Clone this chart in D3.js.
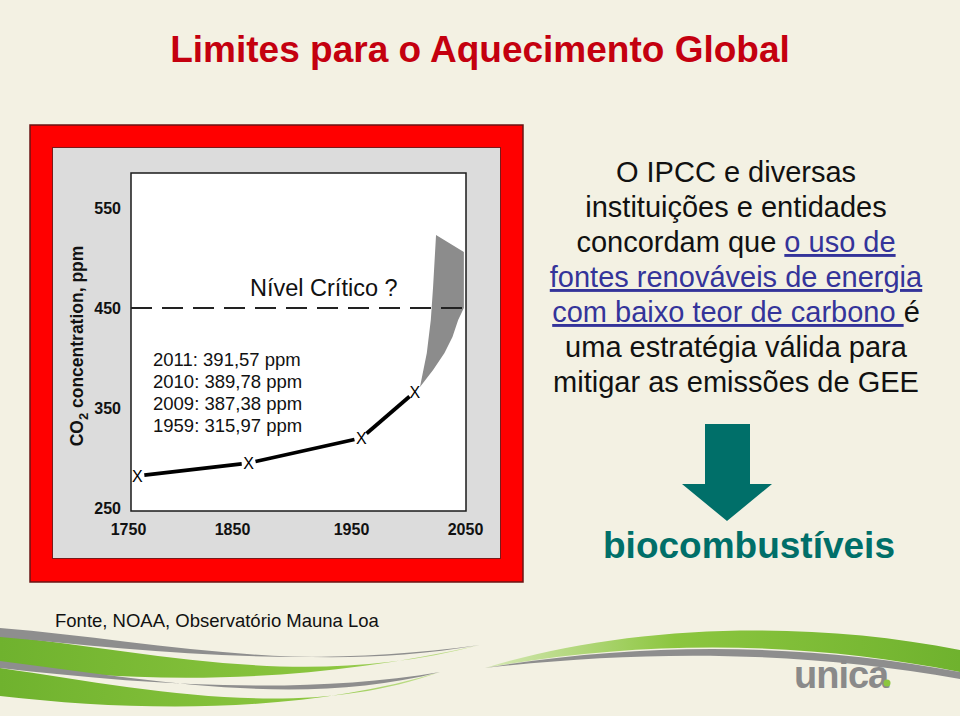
<!DOCTYPE html>
<html>
<head>
<meta charset="utf-8">
<script src="https://cdn.jsdelivr.net/npm/d3@7"></script>
<style>
  html, body { margin: 0; padding: 0; background: #f3f1e3; }
  svg { display: block; }
  text { font-family: "Liberation Sans", Arial, Helvetica, sans-serif; }
</style>
</head>
<body>
<svg id="chart" width="960" height="716"></svg>
<script>
// ---------- data ----------
const xTicks = [1750, 1850, 1950, 2050];
const yTicks = [250, 350, 450, 550];
const obsYears = [1759, 1864, 1959, 2006];
const obsPpm = [282, 295, 320, 366];
// projection band: upper/left edge then lower/right edge
const wedgeYears = [2010.5, 2016.5, 2020, 2022, 2023.7, 2024.6, 2049, 2049, 2044, 2039, 2032, 2022];
const wedgePpm   = [371,    405,    438,  471,  505,    523,    506,  450,  438,  421,  405,  388];
const criticalLevel = 450;
const criticalLabel = "Nível Crítico ?";
const readings = ["2011: 391,57 ppm", "2010: 389,78 ppm", "2009: 387,38 ppm", "1959: 315,97 ppm"];
const title = "Limites para o Aquecimento Global";
const source = "Fonte, NOAA, Observatório Mauna Loa";

// ---------- layout ----------
const svg = d3.select("#chart");
const W = 960, H = 716;
const box = { left: 131, right: 466, top: 173, bottom: 511 };

svg.append("rect").attr("width", W).attr("height", H).attr("fill", "#f3f1e3");

// footer decoration (swooshes)
const defs = svg.append("defs");
const g1 = defs.append("linearGradient").attr("id", "gl").attr("x1", 0).attr("x2", 1).attr("y1", 0).attr("y2", 0);
g1.append("stop").attr("offset", 0).attr("stop-color", "#6fb22e");
g1.append("stop").attr("offset", 0.7).attr("stop-color", "#8cc63f");
g1.append("stop").attr("offset", 1).attr("stop-color", "#c9e29a");
const g2 = defs.append("linearGradient").attr("id", "gr").attr("x1", 0).attr("x2", 1).attr("y1", 0).attr("y2", 0);
g2.append("stop").attr("offset", 0).attr("stop-color", "#d6e8b5");
g2.append("stop").attr("offset", 0.4).attr("stop-color", "#8cc63f");
g2.append("stop").attr("offset", 1).attr("stop-color", "#6fb22e");

const deco = svg.append("g");
const band = (d, fill) => deco.append("path").attr("d", d).attr("fill", fill);
// left upper band
band("M0,636 C150,650 300,692 480,645 C300,686 130,684 0,664 Z", "url(#gl)");
band("M0,628 C150,640 300,676 480,645 C300,670 140,650 0,637 Z", "#8e8e8e");
// left lower band
band("M0,668 C150,690 300,722 440,672 C300,714 140,712 0,696 Z", "url(#gl)");
band("M0,661 C150,680 300,708 440,672 C300,696 140,684 0,668 Z", "#8e8e8e");
// right band
band("M485,668 C620,626 800,618 960,650 L960,672 C800,640 640,640 485,668 Z", "url(#gr)");
band("M485,668 C640,642 800,642 960,672 L960,679 C800,650 640,650 485,668 Z", "#8e8e8e");

// title
svg.append("text").attr("x", 480).attr("y", 62).attr("text-anchor", "middle")
  .attr("font-size", 37).attr("font-weight", "bold").attr("fill", "#c4000f").text(title);

// red frame and gray panel
svg.append("rect").attr("x", 30).attr("y", 125).attr("width", 493).attr("height", 457)
  .attr("fill", "#ff0000").attr("stroke", "#6a1414").attr("stroke-width", 1.5);
svg.append("rect").attr("x", 52.5).attr("y", 147.5).attr("width", 448).attr("height", 411)
  .attr("fill", "#dcdcdc").attr("stroke", "#7a1a1a").attr("stroke-width", 1);
svg.append("rect").attr("x", box.left).attr("y", box.top)
  .attr("width", box.right - box.left).attr("height", box.bottom - box.top)
  .attr("fill", "#ffffff").attr("stroke", "#1a1a1a").attr("stroke-width", 1.5);

// scales
const x = d3.scaleLinear().domain(xTicks).range([128, 232, 351, 465]);
const y = d3.scaleLinear().domain([250, 550]).range([508, 208]);

// axes
const yAxis = svg.append("g").attr("transform", `translate(${box.left},0)`)
  .call(d3.axisLeft(y).tickValues(yTicks).tickSize(0).tickPadding(10));
const xAxis = svg.append("g").attr("transform", `translate(0,${box.bottom})`)
  .call(d3.axisBottom(x).tickValues(xTicks).tickSize(0).tickPadding(13).tickFormat(d3.format("d")));
[yAxis, xAxis].forEach(a => {
  a.select(".domain").remove();
  a.selectAll("text").attr("font-size", 16).attr("font-weight", "bold").attr("fill", "#111")
    .attr("font-family", "'Liberation Sans', Arial, sans-serif");
});

// y label
const yl = svg.append("text").attr("transform", "translate(83,346) rotate(-90)")
  .attr("text-anchor", "middle").attr("font-size", 17.5).attr("font-weight", "bold").attr("fill", "#111");
yl.append("tspan").text("CO");
yl.append("tspan").attr("font-size", 13).attr("dy", 5).text("2");
yl.append("tspan").attr("dy", -5).text(" concentration, ppm");

// wedge
const wedge = wedgeYears.map((yr, i) => [x(yr), y(wedgePpm[i])]);
svg.append("path").attr("d", d3.line()(wedge) + "Z").attr("fill", "#8c8c8c");

// critical level dashed line
svg.append("line").attr("x1", box.left).attr("x2", box.right)
  .attr("y1", y(criticalLevel)).attr("y2", y(criticalLevel))
  .attr("stroke", "#222").attr("stroke-width", 2).attr("stroke-dasharray", "21,10");

svg.append("text").attr("x", 250).attr("y", 296).attr("font-size", 23.5).attr("fill", "#111").text(criticalLabel);

// readings
readings.forEach((t, i) => {
  svg.append("text").attr("x", 153).attr("y", 366 + i * 22.1).attr("font-size", 18.5)
    .attr("fill", "#111").style("white-space", "pre").text(t);
});

// observed line segments with gaps at markers
const pts = obsYears.map((yr, i) => [x(yr), y(obsPpm[i])]);
const trim = 7;
for (let i = 0; i < pts.length - 1; i++) {
  const [x0, y0] = pts[i], [x1, y1] = pts[i + 1];
  const L = Math.hypot(x1 - x0, y1 - y0), ux = (x1 - x0) / L, uy = (y1 - y0) / L;
  svg.append("line").attr("x1", x0 + ux * trim).attr("y1", y0 + uy * trim)
    .attr("x2", x1 - ux * trim).attr("y2", y1 - uy * trim)
    .attr("stroke", "#000").attr("stroke-width", 3.8);
}
svg.selectAll(".mk").data(pts).join("text").attr("class", "mk")
  .attr("x", d => d[0]).attr("y", d => d[1]).attr("text-anchor", "middle")
  .attr("dominant-baseline", "central").attr("font-size", 16).attr("fill", "#000").text("X");

// right text block
const blue = "#34349a";
const lines = [
  [["O IPCC e diversas", false]],
  [["instituições e entidades", false]],
  [["concordam que ", false], ["o uso de", true]],
  [["fontes renováveis de energia", true]],
  [["com baixo teor de carbono ", true], ["é", false]],
  [["uma estratégia válida para", false]],
  [["mitigar as emissões de GEE", false]]
];
lines.forEach((parts, i) => {
  const t = svg.append("text").attr("x", 736).attr("y", 182 + i * 35)
    .attr("text-anchor", "middle").attr("font-size", 29).attr("fill", "#111")
    .style("white-space", "pre");
  parts.forEach(([s, link]) => {
    const sp = t.append("tspan").text(s);
    if (link) sp.attr("fill", blue).style("text-decoration", "underline");
  });
});

// arrow
const teal = "#006f69";
svg.append("path").attr("d", "M705,424 L750,424 L750,484 L772,484 L727,521 L682,484 L705,484 Z").attr("fill", teal);
svg.append("text").attr("x", 749).attr("y", 558).attr("text-anchor", "middle")
  .attr("font-size", 37).attr("font-weight", "bold").attr("fill", teal).text("biocombustíveis");

// source
svg.append("text").attr("x", 55).attr("y", 627).attr("font-size", 18.5).attr("fill", "#111").text(source);

// logo
svg.append("text").attr("x", 794).attr("y", 688).attr("font-size", 38).attr("font-weight", "bold")
  .attr("fill", "#8a8a8a").attr("letter-spacing", -1).text("unica");
svg.append("circle").attr("cx", 887).attr("cy", 683).attr("r", 3.5).attr("fill", "#8cc63f");
</script>
</body>
</html>
